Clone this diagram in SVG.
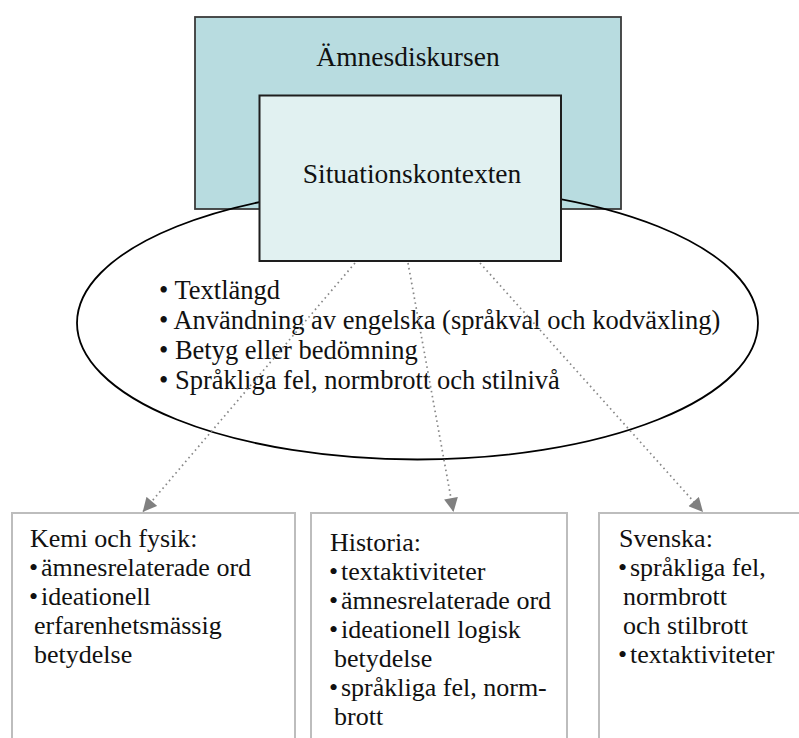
<svg xmlns="http://www.w3.org/2000/svg" width="799" height="738" viewBox="0 0 799 738">
<defs>
<style>
text{font-family:"Liberation Serif","Times New Roman",serif;fill:#111}
.t{font-size:27.5px}
.e{font-size:26.5px}
.b{font-size:26px}
.box{fill:#fff;stroke:#bdbdbd;stroke-width:2}
.con{stroke:#888;stroke-width:1.7;stroke-dasharray:1.6 3.4;fill:none}
</style>
<marker id="ah" viewBox="0 0 10 10" refX="10" refY="5" markerWidth="15" markerHeight="14" markerUnits="userSpaceOnUse" orient="auto"><path d="M0,0 L10,5 L0,10 z" fill="#808080"/></marker>
</defs>
<rect width="799" height="738" fill="#fff"/>
<g id="amnesdiskursen">
<rect x="195" y="17" width="426" height="192" fill="#b8dce0" stroke="#3a3a3a" stroke-width="1.8"/>
<text class="t" x="408" y="66" text-anchor="middle">Ämnesdiskursen</text>
</g>
<g id="ellipse">
<ellipse cx="417.5" cy="323" rx="340.5" ry="136.5" fill="none" stroke="#000" stroke-width="1.8"/>
<text class="e" x="159" y="299">• Textlängd</text>
<text class="e" x="159" y="329">• Användning av engelska (språkval och kodväxling)</text>
<text class="e" x="159" y="359">• Betyg eller bedömning</text>
<text class="e" x="159" y="389">• Språkliga fel, normbrott och stilnivå</text>
</g>
<g id="situationskontexten">
<rect x="259.5" y="95.5" width="301.5" height="165.5" fill="#e1f1f1" stroke="#1e1e1e" stroke-width="2"/>
<text class="t" x="412" y="183" text-anchor="middle">Situationskontexten</text>
</g>
<g id="connectors">
<line class="con" x1="355" y1="263" x2="142.7" y2="512" marker-end="url(#ah)"/>
<line class="con" x1="408" y1="263" x2="453.5" y2="512" marker-end="url(#ah)"/>
<line class="con" x1="480" y1="263" x2="703" y2="512" marker-end="url(#ah)"/>
</g>
<g id="kemi">
<rect class="box" x="12" y="513" width="283" height="240"/>
<text class="b" x="30" y="547">Kemi och fysik:</text>
<text class="b" x="29" y="576">•<tspan x="41">ämnesrelaterade ord</tspan></text>
<text class="b" x="29" y="605">•<tspan x="41">ideationell</tspan></text>
<text class="b" x="34" y="634">erfarenhetsmässig</text>
<text class="b" x="34" y="663">betydelse</text>
</g>
<g id="historia">
<rect class="box" x="311" y="513" width="256" height="240"/>
<text class="b" x="330" y="551">Historia:</text>
<text class="b" x="329" y="580">•<tspan x="341">textaktiviteter</tspan></text>
<text class="b" x="329" y="609">•<tspan x="341">ämnesrelaterade ord</tspan></text>
<text class="b" x="329" y="638">•<tspan x="341">ideationell logisk</tspan></text>
<text class="b" x="334" y="667">betydelse</text>
<text class="b" x="329" y="696">•<tspan x="341">språkliga fel, norm-</tspan></text>
<text class="b" x="334" y="725">brott</text>
</g>
<g id="svenska">
<rect class="box" x="599" y="513" width="220" height="240"/>
<text class="b" x="619" y="547">Svenska:</text>
<text class="b" x="618" y="576">•<tspan x="630">språkliga fel,</tspan></text>
<text class="b" x="623" y="605">normbrott</text>
<text class="b" x="623" y="634">och stilbrott</text>
<text class="b" x="618" y="663">•<tspan x="630">textaktiviteter</tspan></text>
</g>
</svg>
